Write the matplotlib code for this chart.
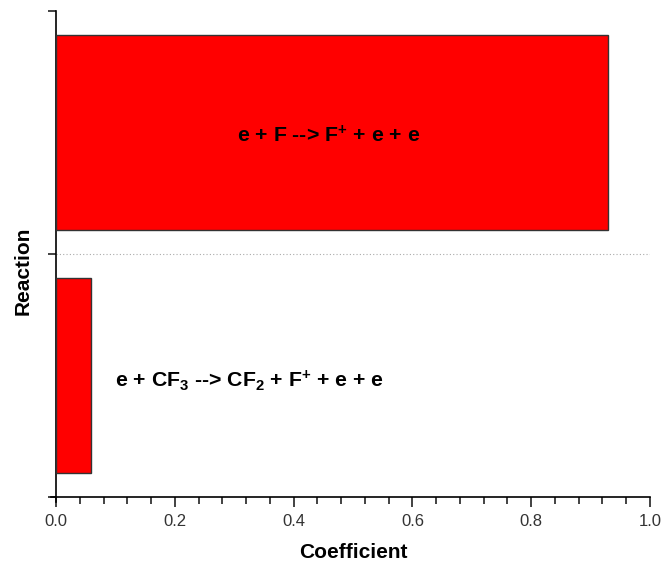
import matplotlib
matplotlib.use("Agg")
import matplotlib.pyplot as plt
from matplotlib.ticker import MultipleLocator

reactions = ["e + CF$_3$ --> CF$_2$ + F$^{+}$ + e + e", "e + F --> F$^{+}$ + e + e"]
coefficients = [0.059, 0.929]
x_ticks = [0.0, 0.2, 0.4, 0.6, 0.8, 1.0]
x_tick_labels = ["0.0", "0.2", "0.4", "0.6", "0.8", "1.0"]

plt.rcParams['font.family'] = ['Liberation Sans', 'DejaVu Sans']
plt.rcParams['mathtext.fontset'] = 'custom'
plt.rcParams['mathtext.rm'] = 'Liberation Sans:bold'
plt.rcParams['mathtext.it'] = 'Liberation Sans:bold'
plt.rcParams['mathtext.bf'] = 'Liberation Sans:bold'

fig = plt.figure(figsize=(6.61, 5.67), dpi=100)
ax = fig.add_axes([56/661, 1-497/567, (650-56)/661, (497-11)/567])

pos = list(range(len(reactions)))
ax.barh(pos, coefficients, height=0.8, color="#FF0000", edgecolor="#333333", linewidth=1.0, zorder=3)

ax.set_xlim(0, 1.0)
ax.set_ylim(-0.5, 1.5)
ax.set_xticks(x_ticks)
ax.set_xticklabels(x_tick_labels)
ax.xaxis.set_minor_locator(MultipleLocator(0.04))
ax.set_yticks([-0.5, 0.5, 1.5])
ax.set_yticklabels([])
ax.axhline(0.5, color="#aaaaaa", linestyle=(0, (1, 2)), linewidth=0.8, zorder=1)

ax.spines['top'].set_visible(False)
ax.spines['right'].set_visible(False)
ax.spines['left'].set_linewidth(1.2)
ax.spines['bottom'].set_linewidth(1.2)
ax.spines['left'].set_bounds(-0.52, 1.5)
ax.spines['bottom'].set_bounds(-0.009, 1.0)
ax.tick_params(axis='x', which='major', direction='out', length=7, width=1.2, labelsize=12, colors='#222222', labelcolor='#333333', pad=5)
ax.tick_params(axis='x', which='minor', direction='out', length=5, width=1.2, colors='#222222')
ax.tick_params(axis='y', which='major', direction='out', length=6, width=1.2, colors='#222222')

ax.set_xlabel("Coefficient", fontsize=15, fontweight='bold', va='center')
ax.xaxis.set_label_coords(0.5, (497-553)/486)
ax.set_ylabel("Reaction", fontsize=15, fontweight='bold', va='center')
ax.yaxis.set_label_coords((23.5-56)/594, (497-271)/486)

# labels
ax.text(0.459, 0.985, reactions[1], ha='center', va='center', fontsize=15.3, fontweight='bold', zorder=4)
ax.text(0.0993, -0.02, reactions[0], ha='left', va='center', fontsize=15.3, fontweight='bold', zorder=4)

fig.savefig("out.png", dpi=100)
